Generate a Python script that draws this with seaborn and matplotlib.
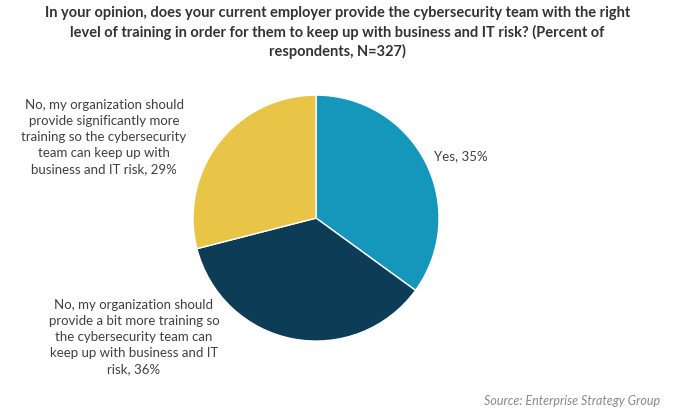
import matplotlib
matplotlib.use("Agg")
import matplotlib.pyplot as plt
import seaborn as sns

sns.set_theme(style="white")
plt.rcParams['font.family'] = ['Lato', 'DejaVu Sans']

labels = ["Yes, 35%",
          "No, my organization should\nprovide a bit more training so\nthe cybersecurity team can\nkeep up with business and IT\nrisk, 36%",
          "No, my organization should\nprovide significantly more\ntraining so the cybersecurity\nteam can keep up with\nbusiness and IT risk, 29%"]
values = [35, 36, 29]
colors = ["#1597BB", "#0D3D56", "#E8C546"]

title = ("In your opinion, does your current employer provide the cybersecurity team with the right\n"
         "level of training in order for them to keep up with business and IT risk? (Percent of\n"
         "respondents, N=327)")

fig = plt.figure(figsize=(6.75, 4.18), dpi=100)
ax = fig.add_axes([0.286, 0.184, 0.3644, 0.5885])
ax.pie(values, colors=colors, startangle=90, counterclock=False,
       wedgeprops=dict(edgecolor="white", linewidth=1))
ax.set_xlim(-1, 1)
ax.set_ylim(-1, 1)
ax.set_aspect("equal")

fig.text(0.5, 0.985, title, ha="center", va="top", fontsize=10.5,
         fontweight="bold", color="#333333", linespacing=1.35)

fig.text(434 / 675, 1 - 156 / 418, labels[0], ha="left", va="center",
         fontsize=9.5, color="#404040")
fig.text(134 / 675, 1 - 337 / 418, labels[1], ha="center", va="center",
         fontsize=9.5, color="#404040", linespacing=1.4)
fig.text(104 / 675, 1 - 137 / 418, labels[2], ha="center", va="center",
         fontsize=9.5, color="#404040", linespacing=1.4)

fig.text(660 / 675, 1 - 401 / 418, "Source: Enterprise Strategy Group",
         ha="right", va="center", fontsize=9, style="italic", color="#8a8a8a")

fig.savefig("out.png", dpi=100, facecolor="white")
